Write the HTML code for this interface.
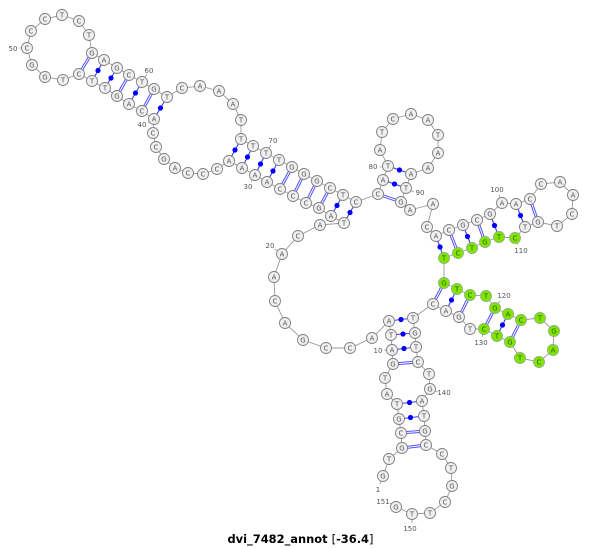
<!DOCTYPE html>
<html><head><meta charset="utf-8"><style>
html,body{margin:0;padding:0;background:#fff;width:600px;height:548px;overflow:hidden}
svg{display:block}
.n circle{r:5.5px;fill:#f0f0f0;stroke:#808080;stroke-width:.9}
.n text,.l text{font-family:"DejaVu Sans",sans-serif;font-size:7px;text-anchor:middle;fill:#555}
.g circle{fill:#7fe600;stroke:#90b080}
.g text{fill:#3a5a00}
</style></head><body>
<svg width="600" height="548" viewBox="0 0 600 548" xmlns="http://www.w3.org/2000/svg">
<polyline fill="none" stroke="#999" stroke-width=".9" points="383,476 389,459 402,448 401,433 399,419 397,404 387,394 385,378 393,364 392,350 391,335 389,321 372,338 350,348 326,348 303,340 285,323 275,301 274,277 282,254 298,236 320,225 344,223 331,216 319,208 306,203 293,196 280,189 267,182 255,175 242,168 229,161 217,169 203,174 188,173 175,168 164,159 156,147 153,133 154,119 142,111 129,104 117,96 105,88 92,81 79,74 63,80 45,77 32,65 27,48 31,31 45,19 62,15 79,21 89,35 92,53 104,60 117,68 129,75 142,82 154,89 167,97 182,88 200,86 219,91 233,104 241,120 241,139 253,146 266,153 279,160 292,167 304,174 317,181 330,188 343,195 356,202 378,194 383,180 388,166 380,150 382,132 393,119 411,114 428,120 438,135 438,153 428,168 411,174 406,188 401,202 410,210 433,204 427,227 436,236 449,230 463,225 477,220 490,214 502,203 516,204 530,199 541,184 560,182 573,195 572,214 557,226 538,222 525,227 515,238 499,237 485,242 472,248 458,253 444,258 444,283 457,289 470,295 486,296 495,308 508,314 521,320 540,318 554,331 553,350 539,362 520,358 510,342 497,336 484,329 470,329 459,317 446,311 433,304 413,318 415,333 416,347 418,362 429,374 430,389 422,401 424,416 425,431 426,445 442,454 451,468 452,486 445,502 430,513 412,514 396,507"/>
<g stroke="#999" stroke-width=".8">
<line x1="27" y1="48" x2="19" y2="48"/><line x1="142" y1="82" x2="147" y2="74"/><line x1="154" y1="119" x2="148" y2="123"/><line x1="266" y1="153" x2="271" y2="145"/><line x1="255" y1="175" x2="251" y2="182"/><line x1="388" y1="166" x2="380" y2="167"/><line x1="406" y1="188" x2="414" y2="192"/><line x1="502" y1="203" x2="499" y2="195"/><line x1="515" y1="238" x2="518" y2="245"/><line x1="495" y1="308" x2="500" y2="301"/><line x1="484" y1="329" x2="482" y2="337"/><line x1="430" y1="389" x2="438" y2="392"/><line x1="392" y1="350" x2="384" y2="350"/><line x1="282" y1="254" x2="275" y2="249"/><line x1="383" y1="476" x2="380" y2="484"/><line x1="396" y1="507" x2="390" y2="503"/><line x1="412" y1="514" x2="412" y2="523"/>
</g>
<g stroke="#5050ff" stroke-width="3">
<line x1="402" y1="448" x2="426" y2="445"/><line x1="401" y1="433" x2="425" y2="431"/><line x1="393" y1="364" x2="418" y2="362"/><line x1="319" y1="208" x2="330" y2="188"/><line x1="306" y1="203" x2="317" y2="181"/><line x1="293" y1="196" x2="304" y2="174"/><line x1="280" y1="189" x2="292" y2="167"/><line x1="142" y1="111" x2="154" y2="89"/><line x1="117" y1="96" x2="129" y2="75"/><line x1="79" y1="74" x2="92" y2="53"/><line x1="378" y1="194" x2="401" y2="202"/><line x1="449" y1="230" x2="458" y2="253"/><line x1="477" y1="220" x2="485" y2="242"/><line x1="530" y1="199" x2="538" y2="222"/><line x1="444" y1="283" x2="433" y2="304"/><line x1="470" y1="295" x2="459" y2="317"/><line x1="495" y1="308" x2="484" y2="329"/><line x1="521" y1="320" x2="510" y2="342"/>
</g>
<g stroke="#fff" stroke-width="1">
<line x1="402" y1="448" x2="426" y2="445"/><line x1="401" y1="433" x2="425" y2="431"/><line x1="393" y1="364" x2="418" y2="362"/><line x1="319" y1="208" x2="330" y2="188"/><line x1="306" y1="203" x2="317" y2="181"/><line x1="293" y1="196" x2="304" y2="174"/><line x1="280" y1="189" x2="292" y2="167"/><line x1="142" y1="111" x2="154" y2="89"/><line x1="117" y1="96" x2="129" y2="75"/><line x1="79" y1="74" x2="92" y2="53"/><line x1="378" y1="194" x2="401" y2="202"/><line x1="449" y1="230" x2="458" y2="253"/><line x1="477" y1="220" x2="485" y2="242"/><line x1="530" y1="199" x2="538" y2="222"/><line x1="444" y1="283" x2="433" y2="304"/><line x1="470" y1="295" x2="459" y2="317"/><line x1="495" y1="308" x2="484" y2="329"/><line x1="521" y1="320" x2="510" y2="342"/>
</g>
<g stroke="#3c3cff" stroke-width="1.1">
<line x1="399" y1="419" x2="424" y2="416"/><line x1="397" y1="404" x2="422" y2="401"/><line x1="392" y1="350" x2="416" y2="347"/><line x1="391" y1="335" x2="415" y2="333"/><line x1="389" y1="321" x2="413" y2="318"/><line x1="344" y1="223" x2="356" y2="202"/><line x1="331" y1="216" x2="343" y2="195"/><line x1="267" y1="182" x2="279" y2="160"/><line x1="255" y1="175" x2="266" y2="153"/><line x1="242" y1="168" x2="253" y2="146"/><line x1="229" y1="161" x2="241" y2="139"/><line x1="154" y1="119" x2="167" y2="97"/><line x1="129" y1="104" x2="142" y2="82"/><line x1="105" y1="88" x2="117" y2="68"/><line x1="92" y1="81" x2="104" y2="60"/><line x1="383" y1="180" x2="406" y2="188"/><line x1="388" y1="166" x2="411" y2="174"/><line x1="436" y1="236" x2="444" y2="258"/><line x1="463" y1="225" x2="472" y2="248"/><line x1="490" y1="214" x2="499" y2="237"/><line x1="516" y1="204" x2="525" y2="227"/><line x1="457" y1="289" x2="446" y2="311"/><line x1="508" y1="314" x2="497" y2="336"/>
</g>
<g fill="#0000ff">
<circle cx="410.5" cy="417.5" r="2.6"/><circle cx="409.5" cy="402.5" r="2.6"/><circle cx="404" cy="348.5" r="2.6"/><circle cx="403" cy="334" r="2.6"/><circle cx="401" cy="319.5" r="2.6"/><circle cx="350" cy="212.5" r="2.6"/><circle cx="337" cy="205.5" r="2.6"/><circle cx="273" cy="171" r="2.6"/><circle cx="260.5" cy="164" r="2.6"/><circle cx="247.5" cy="157" r="2.6"/><circle cx="235" cy="150" r="2.6"/><circle cx="160.5" cy="108" r="2.6"/><circle cx="135.5" cy="93" r="2.6"/><circle cx="111" cy="78" r="2.6"/><circle cx="98" cy="70.5" r="2.6"/><circle cx="394.5" cy="184" r="2.6"/><circle cx="399.5" cy="170" r="2.6"/><circle cx="440" cy="247" r="2.6"/><circle cx="467.5" cy="236.5" r="2.6"/><circle cx="494.5" cy="225.5" r="2.6"/><circle cx="520.5" cy="215.5" r="2.6"/><circle cx="451.5" cy="300" r="2.6"/><circle cx="502.5" cy="325" r="2.6"/>
</g>
<g class="n">
<circle cx="383" cy="476"/><text x="383" y="478.5">G</text>
<circle cx="389" cy="459"/><text x="389" y="461.5">T</text>
<circle cx="402" cy="448"/><text x="402" y="450.5">G</text>
<circle cx="401" cy="433"/><text x="401" y="435.5">C</text>
<circle cx="399" cy="419"/><text x="399" y="421.5">G</text>
<circle cx="397" cy="404"/><text x="397" y="406.5">T</text>
<circle cx="387" cy="394"/><text x="387" y="396.5">A</text>
<circle cx="385" cy="378"/><text x="385" y="380.5">T</text>
<circle cx="393" cy="364"/><text x="393" y="366.5">G</text>
<circle cx="392" cy="350"/><text x="392" y="352.5">A</text>
<circle cx="391" cy="335"/><text x="391" y="337.5">T</text>
<circle cx="389" cy="321"/><text x="389" y="323.5">A</text>
<circle cx="372" cy="338"/><text x="372" y="340.5">A</text>
<circle cx="350" cy="348"/><text x="350" y="350.5">C</text>
<circle cx="326" cy="348"/><text x="326" y="350.5">C</text>
<circle cx="303" cy="340"/><text x="303" y="342.5">G</text>
<circle cx="285" cy="323"/><text x="285" y="325.5">A</text>
<circle cx="275" cy="301"/><text x="275" y="303.5">C</text>
<circle cx="274" cy="277"/><text x="274" y="279.5">A</text>
<circle cx="282" cy="254"/><text x="282" y="256.5">A</text>
<circle cx="298" cy="236"/><text x="298" y="238.5">C</text>
<circle cx="320" cy="225"/><text x="320" y="227.5">A</text>
<circle cx="344" cy="223"/><text x="344" y="225.5">T</text>
<circle cx="331" cy="216"/><text x="331" y="218.5">A</text>
<circle cx="319" cy="208"/><text x="319" y="210.5">G</text>
<circle cx="306" cy="203"/><text x="306" y="205.5">C</text>
<circle cx="293" cy="196"/><text x="293" y="198.5">C</text>
<circle cx="280" cy="189"/><text x="280" y="191.5">C</text>
<circle cx="267" cy="182"/><text x="267" y="184.5">A</text>
<circle cx="255" cy="175"/><text x="255" y="177.5">A</text>
<circle cx="242" cy="168"/><text x="242" y="170.5">A</text>
<circle cx="229" cy="161"/><text x="229" y="163.5">A</text>
<circle cx="217" cy="169"/><text x="217" y="171.5">C</text>
<circle cx="203" cy="174"/><text x="203" y="176.5">C</text>
<circle cx="188" cy="173"/><text x="188" y="175.5">C</text>
<circle cx="175" cy="168"/><text x="175" y="170.5">A</text>
<circle cx="164" cy="159"/><text x="164" y="161.5">G</text>
<circle cx="156" cy="147"/><text x="156" y="149.5">C</text>
<circle cx="153" cy="133"/><text x="153" y="135.5">C</text>
<circle cx="154" cy="119"/><text x="154" y="121.5">A</text>
<circle cx="142" cy="111"/><text x="142" y="113.5">C</text>
<circle cx="129" cy="104"/><text x="129" y="106.5">A</text>
<circle cx="117" cy="96"/><text x="117" y="98.5">G</text>
<circle cx="105" cy="88"/><text x="105" y="90.5">T</text>
<circle cx="92" cy="81"/><text x="92" y="83.5">T</text>
<circle cx="79" cy="74"/><text x="79" y="76.5">C</text>
<circle cx="63" cy="80"/><text x="63" y="82.5">T</text>
<circle cx="45" cy="77"/><text x="45" y="79.5">G</text>
<circle cx="32" cy="65"/><text x="32" y="67.5">G</text>
<circle cx="27" cy="48"/><text x="27" y="50.5">C</text>
<circle cx="31" cy="31"/><text x="31" y="33.5">C</text>
<circle cx="45" cy="19"/><text x="45" y="21.5">C</text>
<circle cx="62" cy="15"/><text x="62" y="17.5">T</text>
<circle cx="79" cy="21"/><text x="79" y="23.5">C</text>
<circle cx="89" cy="35"/><text x="89" y="37.5">T</text>
<circle cx="92" cy="53"/><text x="92" y="55.5">G</text>
<circle cx="104" cy="60"/><text x="104" y="62.5">A</text>
<circle cx="117" cy="68"/><text x="117" y="70.5">G</text>
<circle cx="129" cy="75"/><text x="129" y="77.5">C</text>
<circle cx="142" cy="82"/><text x="142" y="84.5">T</text>
<circle cx="154" cy="89"/><text x="154" y="91.5">G</text>
<circle cx="167" cy="97"/><text x="167" y="99.5">T</text>
<circle cx="182" cy="88"/><text x="182" y="90.5">C</text>
<circle cx="200" cy="86"/><text x="200" y="88.5">A</text>
<circle cx="219" cy="91"/><text x="219" y="93.5">A</text>
<circle cx="233" cy="104"/><text x="233" y="106.5">A</text>
<circle cx="241" cy="120"/><text x="241" y="122.5">T</text>
<circle cx="241" cy="139"/><text x="241" y="141.5">T</text>
<circle cx="253" cy="146"/><text x="253" y="148.5">T</text>
<circle cx="266" cy="153"/><text x="266" y="155.5">T</text>
<circle cx="279" cy="160"/><text x="279" y="162.5">T</text>
<circle cx="292" cy="167"/><text x="292" y="169.5">G</text>
<circle cx="304" cy="174"/><text x="304" y="176.5">G</text>
<circle cx="317" cy="181"/><text x="317" y="183.5">G</text>
<circle cx="330" cy="188"/><text x="330" y="190.5">C</text>
<circle cx="343" cy="195"/><text x="343" y="197.5">T</text>
<circle cx="356" cy="202"/><text x="356" y="204.5">C</text>
<circle cx="378" cy="194"/><text x="378" y="196.5">C</text>
<circle cx="383" cy="180"/><text x="383" y="182.5">A</text>
<circle cx="388" cy="166"/><text x="388" y="168.5">T</text>
<circle cx="380" cy="150"/><text x="380" y="152.5">A</text>
<circle cx="382" cy="132"/><text x="382" y="134.5">T</text>
<circle cx="393" cy="119"/><text x="393" y="121.5">C</text>
<circle cx="411" cy="114"/><text x="411" y="116.5">A</text>
<circle cx="428" cy="120"/><text x="428" y="122.5">A</text>
<circle cx="438" cy="135"/><text x="438" y="137.5">T</text>
<circle cx="438" cy="153"/><text x="438" y="155.5">A</text>
<circle cx="428" cy="168"/><text x="428" y="170.5">A</text>
<circle cx="411" cy="174"/><text x="411" y="176.5">A</text>
<circle cx="406" cy="188"/><text x="406" y="190.5">T</text>
<circle cx="401" cy="202"/><text x="401" y="204.5">G</text>
<circle cx="410" cy="210"/><text x="410" y="212.5">A</text>
<circle cx="433" cy="204"/><text x="433" y="206.5">A</text>
<circle cx="427" cy="227"/><text x="427" y="229.5">C</text>
<circle cx="436" cy="236"/><text x="436" y="238.5">A</text>
<circle cx="449" cy="230"/><text x="449" y="232.5">C</text>
<circle cx="463" cy="225"/><text x="463" y="227.5">G</text>
<circle cx="477" cy="220"/><text x="477" y="222.5">C</text>
<circle cx="490" cy="214"/><text x="490" y="216.5">G</text>
<circle cx="502" cy="203"/><text x="502" y="205.5">A</text>
<circle cx="516" cy="204"/><text x="516" y="206.5">A</text>
<circle cx="530" cy="199"/><text x="530" y="201.5">C</text>
<circle cx="541" cy="184"/><text x="541" y="186.5">C</text>
<circle cx="560" cy="182"/><text x="560" y="184.5">A</text>
<circle cx="573" cy="195"/><text x="573" y="197.5">A</text>
<circle cx="572" cy="214"/><text x="572" y="216.5">C</text>
<circle cx="557" cy="226"/><text x="557" y="228.5">T</text>
<circle cx="538" cy="222"/><text x="538" y="224.5">G</text>
<circle cx="525" cy="227"/><text x="525" y="229.5">T</text>
<circle cx="470" cy="329"/><text x="470" y="331.5">T</text>
<circle cx="459" cy="317"/><text x="459" y="319.5">G</text>
<circle cx="446" cy="311"/><text x="446" y="313.5">A</text>
<circle cx="433" cy="304"/><text x="433" y="306.5">C</text>
<circle cx="413" cy="318"/><text x="413" y="320.5">T</text>
<circle cx="415" cy="333"/><text x="415" y="335.5">G</text>
<circle cx="416" cy="347"/><text x="416" y="349.5">T</text>
<circle cx="418" cy="362"/><text x="418" y="364.5">C</text>
<circle cx="429" cy="374"/><text x="429" y="376.5">T</text>
<circle cx="430" cy="389"/><text x="430" y="391.5">G</text>
<circle cx="422" cy="401"/><text x="422" y="403.5">A</text>
<circle cx="424" cy="416"/><text x="424" y="418.5">T</text>
<circle cx="425" cy="431"/><text x="425" y="433.5">G</text>
<circle cx="426" cy="445"/><text x="426" y="447.5">C</text>
<circle cx="442" cy="454"/><text x="442" y="456.5">C</text>
<circle cx="451" cy="468"/><text x="451" y="470.5">T</text>
<circle cx="452" cy="486"/><text x="452" y="488.5">G</text>
<circle cx="445" cy="502"/><text x="445" y="504.5">C</text>
<circle cx="430" cy="513"/><text x="430" y="515.5">T</text>
<circle cx="412" cy="514"/><text x="412" y="516.5">T</text>
<circle cx="396" cy="507"/><text x="396" y="509.5">G</text>
</g>
<g class="n g">
<circle cx="515" cy="238"/><text x="515" y="240.5">C</text>
<circle cx="499" cy="237"/><text x="499" y="239.5">T</text>
<circle cx="485" cy="242"/><text x="485" y="244.5">G</text>
<circle cx="472" cy="248"/><text x="472" y="250.5">T</text>
<circle cx="458" cy="253"/><text x="458" y="255.5">C</text>
<circle cx="444" cy="258"/><text x="444" y="260.5">T</text>
<circle cx="444" cy="283"/><text x="444" y="285.5">G</text>
<circle cx="457" cy="289"/><text x="457" y="291.5">T</text>
<circle cx="470" cy="295"/><text x="470" y="297.5">C</text>
<circle cx="486" cy="296"/><text x="486" y="298.5">T</text>
<circle cx="495" cy="308"/><text x="495" y="310.5">G</text>
<circle cx="508" cy="314"/><text x="508" y="316.5">A</text>
<circle cx="521" cy="320"/><text x="521" y="322.5">C</text>
<circle cx="540" cy="318"/><text x="540" y="320.5">T</text>
<circle cx="554" cy="331"/><text x="554" y="333.5">G</text>
<circle cx="553" cy="350"/><text x="553" y="352.5">A</text>
<circle cx="539" cy="362"/><text x="539" y="364.5">C</text>
<circle cx="520" cy="358"/><text x="520" y="360.5">T</text>
<circle cx="510" cy="342"/><text x="510" y="344.5">G</text>
<circle cx="497" cy="336"/><text x="497" y="338.5">T</text>
<circle cx="484" cy="329"/><text x="484" y="331.5">C</text>
</g>
<g class="l">
<text x="13" y="51">50</text><text x="149" y="73">60</text><text x="142" y="127">40</text><text x="273" y="143">70</text><text x="248" y="189">30</text><text x="373" y="169">80</text><text x="420" y="195">90</text><text x="497" y="192">100</text><text x="521" y="253">110</text><text x="504" y="298">120</text><text x="481" y="345">130</text><text x="444" y="395">140</text><text x="378" y="353">10</text><text x="270" y="248">20</text><text x="378" y="492">1</text><text x="383" y="504">151</text><text x="410" y="531">150</text>
</g>
<text x="227.5" y="543" textLength="146" lengthAdjust="spacingAndGlyphs" font-family="'DejaVu Sans',sans-serif" font-size="11.5" font-weight="bold" fill="#000">dvi_7482_annot <tspan font-weight="normal">[</tspan>-36.4<tspan font-weight="normal">]</tspan></text>
</svg>
</body></html>
